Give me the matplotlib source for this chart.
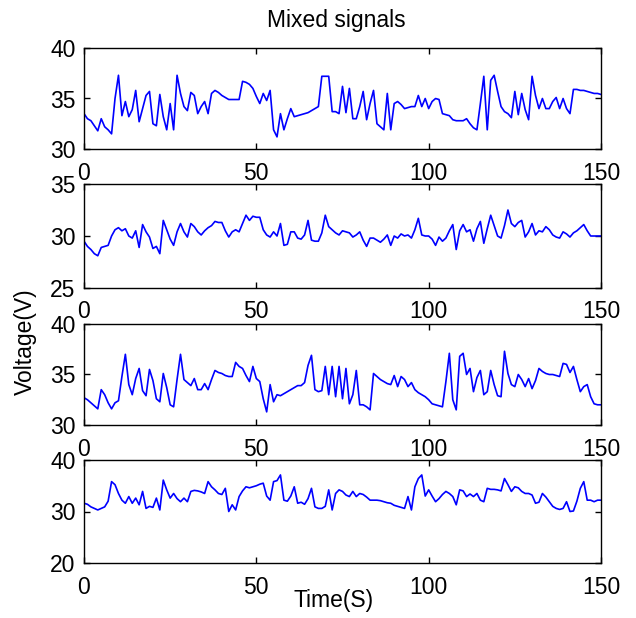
import matplotlib
matplotlib.use('Agg')
import matplotlib.pyplot as plt
import numpy as np

plt.rcParams['font.family'] = ['Liberation Sans', 'DejaVu Sans']

title = "Mixed signals"
xlabel = "Time(S)"
ylabel = "Voltage(V)"
xticks = [0, 50, 100, 150]
xlim = (0, 150)

signal1 = [
    33.5, 33.0, 32.8, 32.3, 31.8, 33.0, 32.2, 31.9, 31.5, 35.0,
    37.3, 33.3, 34.7, 33.2, 33.9, 35.8, 32.7, 34.0, 35.3, 35.7,
    32.5, 32.3, 35.4, 33.2, 31.9, 34.5, 31.9, 37.3, 35.5, 34.2,
    33.8, 35.6, 35.3, 33.5, 34.2, 34.7, 33.5, 35.5, 35.8, 35.6,
    35.3, 35.1, 34.9, 34.9, 34.9, 34.9, 36.7, 36.6, 36.4, 36.0,
    35.2, 34.5, 35.5, 34.8, 35.8, 31.9, 31.2, 33.5, 31.9, 33.0,
    34.0, 33.2, 33.3, 33.4, 33.5, 33.6, 33.8, 34.0, 34.2, 37.2,
    37.2, 37.2, 33.7, 33.7, 33.5, 36.2, 33.6, 36.0, 33.0, 33.0,
    34.2, 35.7, 32.9, 34.5, 35.8, 32.5, 32.2, 31.9, 35.5, 31.9,
    34.5, 34.7, 34.4, 34.0, 34.1, 34.2, 34.2, 35.3, 34.2, 35.0,
    34.0, 34.7, 35.0, 34.9, 33.5, 33.4, 33.3, 32.9, 32.8, 32.8,
    32.8, 33.0, 32.5, 32.1, 31.9, 34.5, 37.2, 31.9, 36.8, 37.3,
    35.7, 34.2, 33.7, 33.5, 33.1, 35.7, 33.4, 35.5, 33.9, 32.9,
    37.2, 35.3, 34.0, 35.0, 34.0, 34.0, 34.7, 35.1, 34.0, 35.0,
    34.0, 33.5, 35.9, 35.9, 35.8, 35.8, 35.7, 35.6, 35.5, 35.5,
    35.4,
]

signal2 = [
    29.5, 29.0, 28.7, 28.3, 28.1, 28.9, 29.0, 29.1, 30.0, 30.6,
    30.8, 30.5, 30.7, 30.0, 29.8, 30.5, 28.9, 31.1, 30.4, 29.9,
    28.8, 29.0, 28.3, 31.5, 30.6, 29.7, 29.1, 30.4, 31.2, 30.4,
    29.9, 31.2, 30.9, 30.4, 30.1, 30.5, 30.8, 31.0, 31.4, 31.3,
    31.3, 30.5, 29.9, 30.4, 30.6, 30.4, 31.2, 32.0, 31.5, 31.9,
    31.8, 31.8, 30.6, 30.1, 29.9, 30.4, 30.0, 31.2, 29.1, 29.2,
    30.4, 30.4, 29.8, 29.7, 30.1, 31.5, 29.6, 29.5, 29.5, 30.3,
    32.0, 30.9, 30.6, 30.3, 30.1, 30.5, 30.4, 30.3, 29.9, 30.1,
    30.4, 29.6, 29.0, 29.8, 29.8, 29.6, 29.4, 29.7, 30.1, 29.1,
    30.0, 29.8, 30.2, 30.0, 30.1, 29.8, 30.6, 31.7, 30.1, 30.0,
    30.0, 29.7, 29.1, 29.9, 29.5, 29.8, 30.5, 31.1, 28.7, 30.5,
    31.1, 30.4, 30.6, 29.5, 30.7, 31.4, 29.3, 30.7, 32.0, 31.0,
    30.0, 29.8, 31.0, 32.5, 31.2, 30.9, 31.3, 31.5, 29.9, 30.4,
    31.2, 30.1, 30.5, 30.4, 30.9, 30.6, 30.1, 29.9, 29.8, 30.4,
    30.2, 29.9, 30.3, 30.5, 30.8, 31.1, 30.5, 30.0, 30.0, 30.0,
    30.0,
]

signal3 = [
    32.7, 32.5, 32.2, 31.9, 31.6, 33.5, 33.0, 32.2, 31.6, 32.2,
    32.4, 34.8, 37.0, 34.0, 33.0, 34.6, 35.6, 33.4, 32.9, 35.5,
    34.4, 32.6, 32.3, 35.1, 33.7, 32.0, 31.8, 34.5, 37.0, 34.5,
    34.2, 33.9, 34.6, 33.5, 33.5, 34.1, 33.5, 34.5, 35.4, 35.2,
    35.1, 34.9, 34.8, 34.8, 36.2, 35.8, 35.6, 34.9, 34.3, 35.8,
    34.6, 34.3, 32.6, 31.3, 34.0, 32.3, 33.0, 32.9, 33.1, 33.3,
    33.5, 33.7, 33.9, 33.9, 34.2, 35.9, 36.9, 33.5, 33.3, 33.4,
    35.8, 33.0, 35.8, 32.8, 35.8, 32.6, 35.6, 32.1, 33.0, 35.4,
    32.0, 32.0, 31.8, 31.5, 35.1, 34.8, 34.5, 34.3, 34.1, 34.0,
    34.9, 33.8, 34.8, 34.5, 33.8, 34.2, 33.5, 33.2, 33.0, 32.8,
    32.5, 32.1, 32.0, 31.9, 31.8, 34.3, 37.1, 32.5, 31.5, 36.8,
    37.1, 35.0, 35.6, 33.3, 34.7, 35.4, 33.0, 33.3, 35.4, 34.0,
    32.9, 32.8, 37.3, 35.1, 34.0, 33.8, 35.0, 34.5, 33.8, 34.6,
    33.6, 34.4, 35.6, 35.3, 35.1, 35.0, 35.0, 34.9, 34.8, 36.1,
    36.0, 35.2, 35.8, 34.5, 33.3, 33.8, 34.0, 32.8, 32.1, 32.0,
    32.0,
]

signal4 = [
    31.6, 31.4, 30.9, 30.6, 30.3, 30.6, 30.9, 32.0, 35.8, 35.2,
    33.5, 32.2, 31.6, 32.9, 31.6, 32.6, 31.3, 33.9, 30.6, 31.0,
    30.8, 32.6, 30.3, 36.1, 34.2, 32.6, 33.5, 32.5, 31.9, 32.6,
    31.9, 33.9, 34.1, 34.0, 33.8, 33.5, 35.8, 34.8, 34.2, 33.5,
    33.3, 34.5, 30.0, 31.3, 30.3, 32.9, 34.0, 34.8, 34.6, 34.8,
    35.0, 35.3, 35.5, 33.0, 32.2, 35.8, 36.0, 37.1, 32.2, 32.0,
    33.0, 34.8, 31.6, 31.8, 31.4, 32.5, 34.5, 30.9, 30.6, 30.6,
    31.0, 34.2, 30.3, 33.5, 34.2, 33.9, 33.2, 32.9, 33.9, 32.9,
    33.5, 33.3, 32.8, 32.2, 32.2, 32.2, 32.1, 31.9, 31.7, 31.6,
    31.2, 31.0, 30.8, 30.6, 32.9, 30.3, 34.8, 36.4, 37.1, 33.0,
    34.2, 33.0, 31.9, 32.5, 33.3, 33.9, 33.5, 32.9, 31.3, 34.2,
    34.0, 32.9, 33.4, 32.9, 33.5, 32.2, 31.9, 34.5, 34.3, 34.3,
    34.2, 34.0, 36.4, 35.2, 33.9, 34.8, 34.6, 33.9, 33.5, 33.5,
    33.2, 31.6, 31.8, 33.5, 32.8, 31.9, 31.0, 30.6, 30.4, 30.6,
    31.9, 30.0, 30.1, 32.0, 34.5, 35.8, 32.2, 32.2, 31.9, 32.2,
    32.2,
]

signals = [signal1, signal2, signal3, signal4]
ylims = [(30, 40), (25, 35), (30, 40), (20, 40)]
yticks = [[30, 35, 40], [25, 30, 35], [30, 35, 40], [20, 30, 40]]

fig = plt.figure(figsize=(6.36, 6.18), dpi=100)
W, H = 636.0, 618.0
left, right = 84, 601
tops_bottoms = [(48, 149), (184, 288), (324, 425), (460, 563)]

FS = 16.5
for sig, yl, yt, (tp, bt) in zip(signals, ylims, yticks, tops_bottoms):
    ax = fig.add_axes([left / W, 1 - bt / H, (right - left) / W, (bt - tp) / H])
    x = np.arange(len(sig))
    ax.plot(x, sig, color='#0000ff', lw=1.2)
    ax.set_xlim(*xlim)
    ax.set_ylim(*yl)
    ax.set_xticks(xticks)
    ax.set_yticks(yt)
    ax.tick_params(direction='in', top=True, right=True, length=4, width=1,
                   labelsize=FS, colors='black')
    ax.tick_params(axis='x', pad=9)
    ax.tick_params(axis='y', pad=6)
    for sp in ax.spines.values():
        sp.set_linewidth(1.0)
        sp.set_color('black')

fig.text(336 / W, 1 - 20 / H, title, ha='center', va='center', fontsize=FS)
fig.text(334 / W, 1 - 600 / H, xlabel, ha='center', va='center', fontsize=FS)
fig.text(25 / W, 1 - 342 / H, ylabel, ha='center', va='center', rotation=90, fontsize=FS)

fig.savefig('out.png', dpi=100)
